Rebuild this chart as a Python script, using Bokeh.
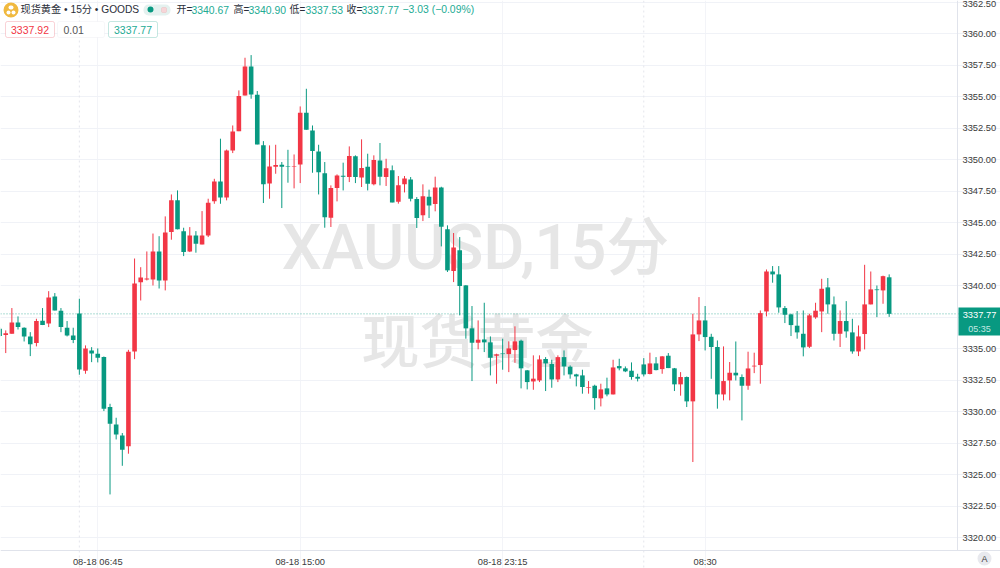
from bokeh.plotting import figure
from bokeh.embed import file_html
from bokeh.resources import INLINE
from bokeh.models import BoxAnnotation, Label, Span, FixedTicker, ColumnDataSource, NumeralTickFormatter
import numpy as np

FONT = "Liberation Sans, Noto Sans CJK SC"
MARK_FONT = "Roboto Medium, Noto Sans CJK SC Medium, Liberation Sans, Noto Sans CJK SC"
MARK_CJK = "Noto Sans CJK SC Medium, Noto Sans CJK SC"
RED = "#F23645"
GREEN = "#089981"

y_ticks = [3320 + 2.5 * k for k in range(18)]
x_ticks = [16, 49, 82, 115]
x_labels = ["08-18 06:45", "08-18 15:00", "08-18 23:15", "08:30"]
session_breaks = [13, 105]
last_price = 3337.77

opens = [3336.59,3336.09,3336.19,3337.09,3336.67,3335.98,3335.45,3337.22,3337.01,3339.15,
 3338.01,3336.67,3336.06,3337.80,3333.26,3334.87,3334.61,3334.34,3330.38,3329.00,
 3328.13,3327.28,3334.79,3340.28,3340.50,3340.50,3342.72,3340.42,3344.26,3346.77,
 3344.33,3342.72,3343.99,3343.28,3343.99,3346.71,3348.27,3347.00,3350.73,3352.26,
 3355.09,3357.39,3355.14,3351.15,3348.11,3349.44,3349.59,3349.46,3349.41,3349.62,
 3353.72,3352.32,3350.65,3348.93,3345.40,3347.75,3348.73,3348.62,3350.26,3348.59,
 3349.44,3348.04,3349.94,3348.62,3349.15,3346.66,3348.04,3348.43,3346.88,3345.58,
 3347.06,3346.48,3347.80,3344.47,3341.17,3342.81,3340.03,3336.62,3335.48,3335.74,
 3335.51,3334.45,3334.63,3334.58,3334.90,3335.64,3333.29,3332.41,3332.49,3334.19,
 3333.79,3332.57,3334.34,3333.58,3332.97,3332.89,3331.89,3332.07,3331.07,3331.86,
 3331.38,3333.63,3333.45,3333.26,3332.78,3333.76,3333.00,3333.84,3333.39,3334.45,
 3333.45,3332.18,3332.76,3330.83,3336.14,3337.25,3335.95,3335.14,3331.38,3332.49,
 3333.10,3332.76,3332.07,3333.60,3333.71,3337.96,3341.13,3340.90,3338.23,3337.73,
 3336.83,3336.19,3335.16,3337.49,3337.96,3339.87,3338.52,3336.19,3337.20,3336.30,
 3334.79,3336.17,3338.52,3339.71,3339.63,3340.67]
highs = [3336.72,3336.46,3338.23,3337.57,3336.70,3336.32,3337.38,3338.23,3339.57,3339.42,
 3338.23,3337.20,3336.67,3338.97,3335.27,3335.13,3335.03,3334.39,3330.64,3329.53,
 3328.32,3334.92,3342.16,3341.47,3342.72,3344.14,3343.93,3345.50,3347.24,3347.56,
 3344.60,3344.65,3344.33,3345.92,3346.90,3348.48,3351.66,3350.80,3352.71,3355.49,
 3358.08,3358.29,3355.44,3351.47,3351.13,3351.18,3349.81,3350.78,3350.41,3354.22,
 3355.62,3352.71,3351.18,3349.81,3347.96,3348.83,3349.76,3351.05,3350.34,3351.61,
 3350.47,3350.34,3351.32,3350.07,3349.54,3348.70,3348.70,3348.62,3347.03,3348.04,
 3347.62,3348.65,3347.85,3344.79,3344.18,3343.86,3340.05,3338.39,3337.25,3338.65,
 3335.98,3334.61,3335.80,3335.59,3336.78,3335.72,3333.32,3334.48,3334.48,3334.34,
 3334.13,3334.48,3334.87,3333.68,3333.02,3333.34,3332.44,3332.15,3332.23,3332.71,
 3334.13,3334.21,3333.60,3333.92,3333.02,3334.26,3334.69,3334.34,3334.42,3334.66,
 3333.48,3333.15,3332.80,3337.78,3339.10,3338.39,3336.19,3335.66,3335.19,3333.95,
 3335.58,3332.97,3334.77,3334.69,3338.04,3341.29,3341.56,3341.56,3338.39,3337.78,
 3337.99,3338.04,3337.78,3338.65,3340.55,3340.61,3339.15,3338.04,3338.78,3337.38,
 3336.85,3341.66,3341.13,3340.02,3340.80,3340.90]
lows = [3335.93,3334.66,3336.19,3336.53,3335.58,3334.42,3335.19,3336.88,3336.72,3338.04,
 3336.32,3335.98,3335.45,3332.94,3333.02,3333.94,3333.92,3330.06,3323.45,3327.81,
 3325.72,3326.68,3334.18,3338.83,3340.42,3340.02,3339.78,3339.63,3343.65,3344.47,
 3342.35,3342.67,3342.62,3343.28,3343.86,3346.50,3346.50,3346.77,3350.52,3352.26,
 3355.09,3354.83,3351.21,3346.56,3346.90,3348.88,3346.16,3348.17,3347.72,3348.14,
 3352.37,3348.96,3347.24,3344.60,3344.66,3346.69,3347.56,3348.22,3348.14,3347.83,
 3347.56,3347.96,3347.96,3347.91,3346.61,3346.51,3347.40,3346.69,3344.58,3345.13,
 3345.37,3345.90,3343.12,3341.09,3340.29,3337.65,3335.80,3332.44,3334.96,3334.74,
 3332.89,3332.23,3333.34,3333.15,3333.89,3331.86,3331.78,3331.75,3332.36,3331.65,
 3331.91,3332.36,3332.89,3332.63,3332.02,3331.44,3331.44,3330.17,3330.43,3331.23,
 3331.38,3333.29,3333.15,3332.55,3332.41,3332.81,3332.97,3333.29,3333.02,3333.47,
 3331.65,3331.28,3330.38,3326.02,3335.61,3334.87,3332.62,3330.25,3330.91,3330.91,
 3332.49,3329.32,3331.75,3333.07,3332.23,3337.57,3340.24,3337.86,3337.04,3336.01,
 3335.80,3334.40,3335.06,3337.38,3336.32,3337.78,3335.66,3335.14,3335.88,3334.61,
 3334.42,3334.95,3338.52,3337.51,3338.57,3337.53]
closes = [3336.01,3336.24,3337.09,3336.72,3335.98,3335.35,3337.20,3336.88,3339.07,3338.04,
 3336.72,3336.06,3335.69,3333.36,3335.03,3334.63,3334.29,3330.24,3329.06,3328.21,
 3326.99,3334.76,3340.18,3340.65,3340.57,3342.72,3340.42,3344.23,3346.77,3344.47,
 3342.67,3343.99,3343.33,3343.99,3346.58,3348.27,3347.00,3350.73,3352.24,3355.04,
 3357.39,3355.17,3351.21,3348.04,3349.46,3349.57,3349.44,3349.42,3349.46,3353.72,
 3352.37,3350.68,3348.99,3345.44,3347.75,3348.75,3348.65,3350.28,3348.62,3349.33,
 3348.09,3349.97,3348.65,3349.31,3346.61,3347.96,3348.51,3346.90,3345.37,3347.09,
 3346.37,3347.80,3344.68,3341.22,3343.04,3339.98,3336.62,3335.48,3335.72,3335.51,
 3334.29,3334.56,3334.58,3335.03,3335.59,3333.45,3332.36,3332.63,3334.16,3333.84,
 3332.57,3334.34,3333.60,3332.97,3332.81,3331.97,3331.94,3331.09,3331.78,3331.38,
 3333.52,3333.45,3333.21,3332.76,3332.63,3332.97,3333.84,3333.31,3334.40,3333.47,
 3332.18,3332.76,3330.83,3336.14,3337.25,3335.93,3335.14,3331.38,3332.44,3333.10,
 3332.89,3332.07,3333.44,3333.66,3337.83,3341.13,3340.90,3338.28,3337.70,3336.88,
 3336.30,3335.11,3337.65,3338.02,3339.76,3338.52,3336.19,3337.20,3336.38,3334.79,
 3335.98,3338.52,3339.71,3339.65,3340.76,3337.77]

idx = np.arange(len(opens))
o, h, l, c = map(np.array, (opens, highs, lows, closes))
colors = [RED if a >= b else GREEN for a, b in zip(c, o)]
src = ColumnDataSource(dict(x=idx, top=np.maximum(o, c), bottom=np.minimum(o, c), high=h, low=l, color=colors))

PX = 6.135          # pixels per bar
PY = 12.61          # pixels per price unit
X_LEFT = 0.9 / PX
X_AXIS = (957 + 0.9) / PX
X_RIGHT = (1000 + 0.9) / PX
Y_TOP = 3362.62
Y_AXIS = Y_TOP - 550 / PY
Y_BOTTOM = Y_TOP - 568 / PY

p = figure(width=1000, height=568, frame_width=1000, frame_height=568,
           x_range=(X_LEFT, X_RIGHT), y_range=(Y_BOTTOM, Y_TOP),
           y_axis_location="right", output_backend="svg", toolbar_location=None,
           min_border_left=0, min_border_top=0, min_border_right=0, min_border_bottom=0,
           background_fill_color="white", border_fill_color="white", outline_line_color=None)

p.yaxis.ticker = FixedTicker(ticks=y_ticks)
p.yaxis.formatter = NumeralTickFormatter(format="0.00")
p.xaxis.ticker = FixedTicker(ticks=x_ticks)
p.xaxis.major_label_overrides = dict(zip(x_ticks, x_labels))
for ax in (p.xaxis, p.yaxis):
    ax.axis_line_color = "#e0e3eb"
    ax.major_tick_line_color = None
    ax.minor_tick_line_color = None
    ax.major_tick_out = 0
    ax.major_tick_in = 0
    ax.major_label_text_font = FONT
    ax.major_label_text_font_size = "9.3px"
    ax.major_label_text_color = "#3a3a3a"
p.yaxis.major_label_standoff = 5
p.xaxis.major_label_standoff = 6
p.yaxis.fixed_location = X_AXIS
p.xaxis.fixed_location = Y_AXIS
p.yaxis.bounds = (Y_AXIS, Y_TOP)
p.xgrid.ticker = FixedTicker(ticks=x_ticks)
p.ygrid.ticker = FixedTicker(ticks=y_ticks)
p.xgrid.grid_line_color = "#f3f4f8"
p.ygrid.grid_line_color = "#f0f2f7"
p.xgrid.bounds = (Y_AXIS, Y_TOP)
p.ygrid.bounds = (X_LEFT, X_AXIS)


def canvas_label(x, y, text, size, color, align="left", level="overlay", font=FONT, **kw):
    lab = Label(x=x, y=y, x_units="canvas", y_units="canvas", text=text,
                text_font=font, text_font_size=f"{size}px", text_color=color,
                text_align=align, text_baseline="middle", level=level, **kw)
    p.add_layout(lab)


def canvas_box(l_, r, t, b, fill, line=None, radius=0):
    p.add_layout(BoxAnnotation(left=l_, right=r, top=t, bottom=b,
                               left_units="canvas", right_units="canvas",
                               top_units="canvas", bottom_units="canvas",
                               fill_color=fill, fill_alpha=1.0, line_color=line,
                               line_width=1, border_radius=radius, level="annotation"))


canvas_label(475, 247, "XAUUSD,15分", 63, "#e6e6e6", align="center", level="underlay", font=MARK_FONT)
canvas_label(477, 337, "现货黄金", 58, "#e6e6e6", align="center", level="underlay", font=MARK_CJK)

for b in session_breaks:
    p.add_layout(Span(location=b, dimension="height", line_color="#e4e6ec", line_dash="2 3", line_width=1, level="underlay"))
p.add_layout(Span(location=last_price, dimension="width", line_color=GREEN, line_alpha=0.65, line_dash="1 2", line_width=1, level="underlay"))

p.segment(x0="x", y0="high", x1="x", y1="low", color="color", line_width=1, source=src)
p.vbar(x="x", top="top", bottom="bottom", width=0.75, fill_color="color", line_color=None, source=src)

# price tag
canvas_box(958, 1000, 307, 335, GREEN)
canvas_label(979, 314, "3337.77", 9.3, "#ffffff", align="center")
canvas_label(979, 328, "05:35", 9, "#c4e8e1", align="center")

# header
canvas_box(3, 18, 2, 17, "#f0b93f", radius=8)
canvas_box(8, 13, 5, 9, "#ffffff", radius=2)
canvas_box(6, 10, 10, 14, "#ffffff", radius=2)
canvas_box(11, 15, 10, 14, "#ffffff", radius=2)
canvas_label(20, 9, "现货黄金 • 15分 • GOODS", 10.2, "#2a2e39")
canvas_box(143, 170, 4, 15, "#e4f1ef", radius=5)
canvas_box(147, 153, 6, 12, GREEN, radius=3)
canvas_box(161, 166, 7, 12, "#f7d5d8", line="#e8a5aa", radius=1)

TXT = "#2a2e39"
VAL = "#22ab94"
for x0, ch, x1, v in [(176, "开=", 191, "3340.67"), (233, "高=", 248, "3340.90"),
                      (289, "低=", 305, "3337.53"), (346, "收=", 361, "3337.77")]:
    canvas_label(x0, 9, ch, 10, TXT)
    canvas_label(x1, 9, v, 10.4, VAL)
canvas_label(402, 9, "−3.03 (−0.09%)", 10.4, VAL)

canvas_box(5, 54, 21, 37, "#ffffff", line="#ea6a78", radius=2)
canvas_box(57, 104, 21, 37, "#ffffff", line="#e3e5ea", radius=2)
canvas_box(108, 157, 21, 37, "#ffffff", line="#3fae9b", radius=2)
canvas_label(29.5, 29, "3337.92", 10.5, RED, align="center")
canvas_label(63, 29, "0.01", 10.5, "#555555")
canvas_label(132.5, 29, "3337.77", 10.5, VAL, align="center")

# auto button
canvas_box(977, 991, 551, 565, "#e8e9ee", radius=7)
canvas_label(984, 558, "A", 9, "#3a3a3a", align="center")

open("out.html", "w").write(file_html(p, INLINE))
